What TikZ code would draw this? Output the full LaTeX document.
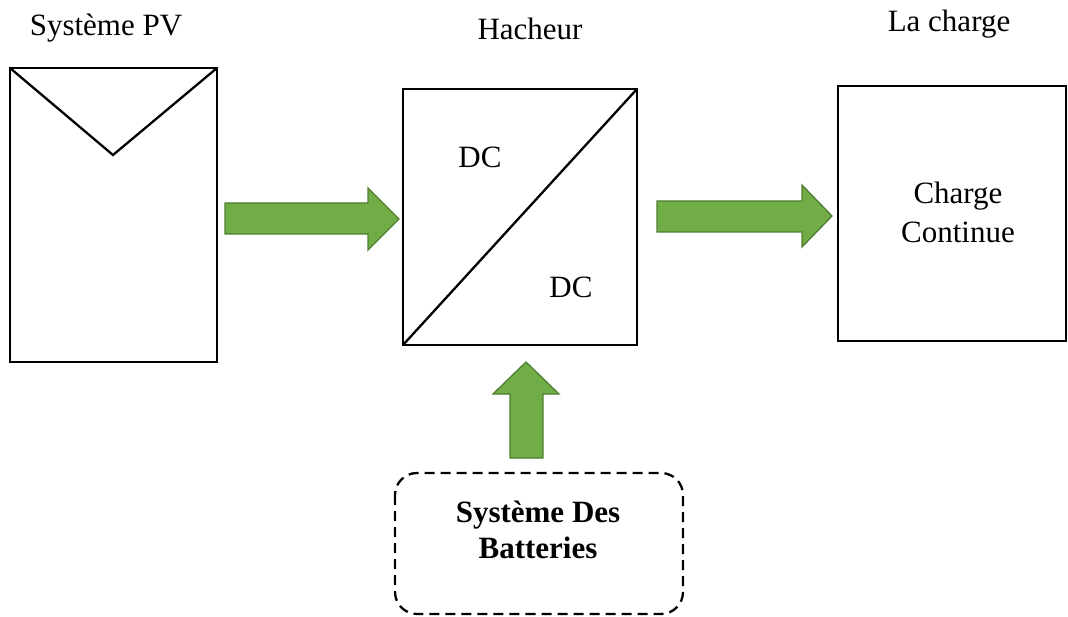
\documentclass[tikz,border=0pt]{standalone}
\usepackage{fontspec}
\setmainfont{Liberation Serif}
\definecolor{arrowfill}{HTML}{70AD47}
\definecolor{arrowline}{HTML}{507E32}
\begin{document}
\begin{tikzpicture}[x=1pt,y=-1pt,
  blk/.style={draw=black,line width=2.3pt},
  lbl/.style={font=\fontsize{31}{36}\selectfont,inner sep=0pt,anchor=base},
  greenarrow/.style={fill=arrowfill,draw=arrowline,line width=1.3pt,line join=miter}]
\useasboundingbox (0,0) rectangle (1068,617);
% PV panel
\draw[blk] (10,68) rectangle (217,362);
\coordinate (pvtl) at (10,68);
\coordinate (pvtr) at (217,68);
\coordinate (pvv) at (113,155);
\draw[blk] (pvtl) -- (pvv) -- (pvtr);
\node[lbl] (pvlabel) at (106,36) {Système PV};
% Hacheur
\draw[blk] (403,89) rectangle (637,345);
\coordinate (hbl) at (403,345);
\coordinate (htr) at (637,89);
\draw[blk] (hbl) -- (htr);
\node[lbl] (hlabel) at (530,40) {Hacheur};
\node[lbl] (dc1) at (480,168) {DC};
\node[lbl] (dc2) at (571,298) {DC};
% Charge
\draw[blk] (838,86) rectangle (1066,341);
\node[lbl] (clabel) at (949,32) {La charge};
\node[lbl] (charge1) at (958,204) {Charge};
\node[lbl] (charge2) at (958,243) {Continue};
% Arrows
\draw[greenarrow] (225,203) -- (368,203) -- (368,188) -- (399,219) -- (368,250) -- (368,234) -- (225,234) -- cycle;
\draw[greenarrow] (657,201) -- (802,201) -- (802,185) -- (832,216) -- (802,247) -- (802,232) -- (657,232) -- cycle;
\draw[greenarrow] (510,458) -- (510,394) -- (493,394) -- (526,362) -- (559,394) -- (543,394) -- (543,458) -- cycle;
% Batteries
\draw[line width=2.3pt,dash pattern=on 10pt off 6pt,rounded corners=22pt] (395,473) rectangle (683,614);
\node[lbl,font=\bfseries\fontsize{31}{36}\selectfont] (batt1) at (538,522) {Système Des};
\node[lbl,font=\bfseries\fontsize{31}{36}\selectfont] (batt2) at (538,558) {Batteries};
\end{tikzpicture}
\end{document}
